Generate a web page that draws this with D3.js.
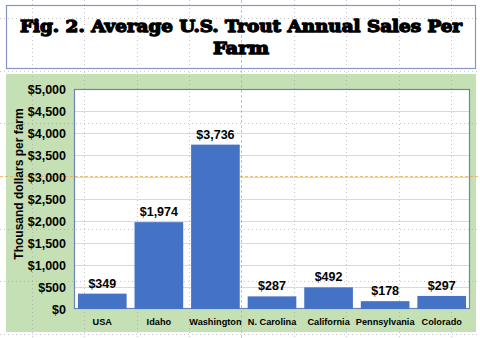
<!DOCTYPE html>
<html>
<head>
<meta charset="utf-8">
<script src="https://cdn.jsdelivr.net/npm/d3@7"></script>
<style>
  html, body { margin: 0; padding: 0; background: #ffffff; }
  svg { display: block; }
</style>
</head>
<body>
<svg id="chart" width="480" height="338"></svg>
<script>
// Average trout sales per farm, thousand dollars
const states = ["USA", "Idaho", "Washington", "N. Carolina", "California", "Pennsylvania", "Colorado"];
const sales = [349, 1974, 3736, 287, 492, 178, 297];
const yTicks = [0, 500, 1000, 1500, 2000, 2500, 3000, 3500, 4000, 4500, 5000];
const titleLines = ["Fig. 2. Average U.S. Trout Annual Sales Per", "Farm"];
const yTitle = "Thousand dollars per farm";

// sheet cell grid behind the chart
const sheetCols = [32, 84, 137, 189, 294, 346, 399, 451];
const sheetRows = [18, 71, 123, 229, 281, 334];

const svg = d3.select("#chart");
const W = 480, H = 338;

const plot = { left: 74, right: 470, top: 89, bottom: 309 };

// Chart area (green)
svg.append("rect")
  .attr("x", 6).attr("y", 74).attr("width", 470).attr("height", 258)
  .attr("fill", "#c5e0b4");

// Title box
svg.append("rect")
  .attr("x", 6.5).attr("y", 5.5).attr("width", 469).attr("height", 63)
  .attr("fill", "#ffffff").attr("stroke", "#8596c2").attr("stroke-width", 1.2);

// Plot area
svg.append("rect")
  .attr("x", plot.left).attr("y", plot.top)
  .attr("width", plot.right - plot.left).attr("height", plot.bottom - plot.top)
  .attr("fill", "#ffffff");

const x = d3.scaleBand().domain(states).range([plot.left, plot.right]).paddingInner(0.14).paddingOuter(0.07);
const y = d3.scaleLinear().domain([0, 5000]).range([plot.bottom, plot.top]);

// Horizontal gridlines
svg.append("g")
  .selectAll("line").data(yTicks.filter(d => d > 0)).join("line")
  .attr("x1", plot.left).attr("x2", plot.right)
  .attr("y1", d => Math.round(y(d)) + 0.5).attr("y2", d => Math.round(y(d)) + 0.5)
  .attr("stroke", "#d9d9d9").attr("stroke-width", 1);

// Sheet grid (dotted)
const sheet = svg.append("g").attr("opacity", 0.55);
sheet.selectAll("line.v").data(sheetCols).join("line").attr("class", "v")
  .attr("x1", d => d + 0.5).attr("x2", d => d + 0.5).attr("y1", 0).attr("y2", H)
  .attr("stroke", "#9a9a9a").attr("stroke-dasharray", "1,3");
sheet.selectAll("line.h").data(sheetRows).join("line").attr("class", "h")
  .attr("y1", d => d + 0.5).attr("y2", d => d + 0.5).attr("x1", 0).attr("x2", W)
  .attr("stroke", "#9a9a9a").attr("stroke-dasharray", "1,3");
// page break lines
svg.append("line").attr("x1", 241.5).attr("x2", 241.5).attr("y1", 0).attr("y2", H)
  .attr("stroke", "#f0a640").attr("stroke-dasharray", "3,2").attr("opacity", 0.75);
svg.append("line").attr("y1", 176.5).attr("y2", 176.5).attr("x1", 0).attr("x2", W)
  .attr("stroke", "#f0a640").attr("stroke-dasharray", "3,2").attr("opacity", 0.75);

// Plot border
svg.append("rect")
  .attr("x", plot.left + 0.5).attr("y", plot.top + 0.5)
  .attr("width", plot.right - plot.left - 1).attr("height", plot.bottom - plot.top - 1)
  .attr("fill", "none").attr("stroke", "#6d83b3").attr("stroke-width", 1.2);

// Bars
svg.append("g").selectAll("rect").data(states).join("rect")
  .attr("x", d => x(d)).attr("width", x.bandwidth())
  .attr("y", (d, i) => y(sales[i])).attr("height", (d, i) => y(0) - y(sales[i]))
  .attr("fill", "#4472c4");

// Value labels
svg.append("g").selectAll("text").data(states).join("text")
  .attr("x", d => x(d) + x.bandwidth() / 2)
  .attr("y", (d, i) => y(sales[i]) - 6)
  .attr("text-anchor", "middle")
  .attr("font-family", "Liberation Sans, Arial, sans-serif")
  .attr("font-weight", "bold").attr("font-size", 12.5).attr("fill", "#000")
  .text((d, i) => "$" + d3.format(",")(sales[i]));

// Y axis
const yAxis = d3.axisLeft(y).tickValues(yTicks).tickSize(0).tickPadding(8)
  .tickFormat(d => "$" + d3.format(",")(d));
const yg = svg.append("g").attr("transform", `translate(${plot.left},0)`).call(yAxis);
yg.select(".domain").remove();
yg.selectAll("text")
  .attr("font-family", "Liberation Sans, Arial, sans-serif")
  .attr("font-weight", "bold").attr("font-size", 12.5).attr("fill", "#000");

// X axis
const xAxis = d3.axisBottom(x).tickSize(0).tickPadding(9);
const xg = svg.append("g").attr("transform", `translate(0,${plot.bottom})`).call(xAxis);
xg.select(".domain").remove();
xg.selectAll("text")
  .attr("font-family", "Liberation Sans, Arial, sans-serif")
  .attr("font-weight", "bold").attr("font-size", 9.2).attr("fill", "#000");

// Y axis title
svg.append("text")
  .attr("transform", "translate(23,184) rotate(-90)")
  .attr("text-anchor", "middle")
  .attr("font-family", "Liberation Sans, Arial, sans-serif")
  .attr("font-weight", "bold").attr("font-size", 12).attr("fill", "#000")
  .text(yTitle);

// Title: heavy serif, each line scaled horizontally to its target width
const titleSpecs = [
  { text: titleLines[0], y: 32, width: 442 },
  { text: titleLines[1], y: 54, width: 56 }
];
titleSpecs.forEach(s => {
  const g = svg.append("g");
  const t = g.append("text")
    .attr("x", 0).attr("y", 0).attr("text-anchor", "middle")
    .attr("font-family", "DejaVu Serif Condensed, DejaVu Serif, serif").attr("font-weight", "bold")
    .attr("font-size", 17.5).attr("fill", "#000")
    .attr("stroke", "#000").attr("stroke-width", 1.3).attr("stroke-linejoin", "round")
    .text(s.text);
  const w = t.node().getComputedTextLength();
  g.attr("transform", `translate(241,${s.y}) scale(${s.width / w},1)`);
});
</script>
</body>
</html>
